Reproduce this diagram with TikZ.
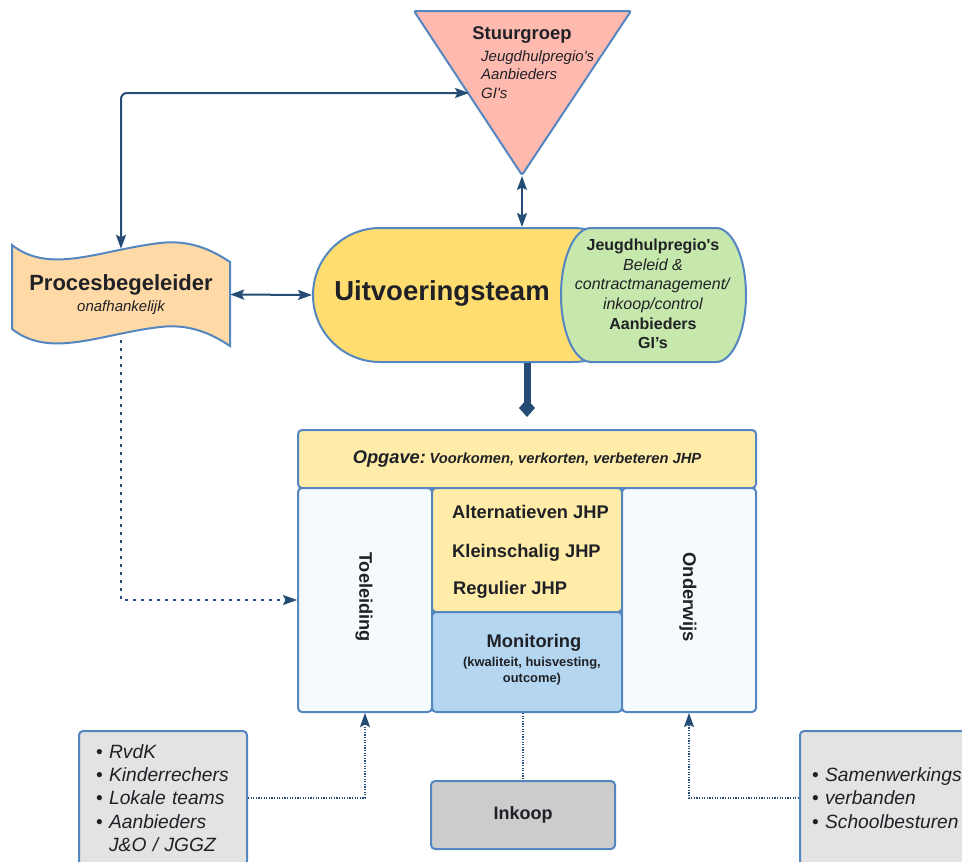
\documentclass[tikz,border=0pt]{standalone}
\usepackage{fontspec}
\setmainfont{Liberation Sans}
\usetikzlibrary{arrows.meta,positioning,shapes.misc}
\definecolor{edgeblue}{RGB}{84,134,192}
\definecolor{arrowblue}{RGB}{36,76,116}
\definecolor{txt}{RGB}{32,33,38}
\definecolor{pinkfill}{RGB}{255,186,176}
\definecolor{orangefill}{RGB}{255,218,166}
\definecolor{yellowfill}{RGB}{255,221,113}
\definecolor{greenfill}{RGB}{199,232,172}
\definecolor{paleyellow}{RGB}{255,236,168}
\definecolor{paleblue}{RGB}{245,250,255}
\definecolor{bluefill}{RGB}{180,214,240}
\definecolor{grayfill}{RGB}{204,204,204}
\definecolor{lightgray}{RGB}{227,227,227}
\begin{document}
\begin{tikzpicture}[x=1pt,y=-1pt,
    >={Stealth[length=14pt,width=10pt,inset=2.5pt]},
    panel/.style={draw=edgeblue, line width=2pt, rounded corners=4pt, text=txt, inner sep=0pt},
    duplex/.style={arrowblue, line width=2pt, <->},
    dotlink/.style={arrowblue, line width=1.3pt, dash pattern=on 1.2pt off 1.4pt, ->},
    dotline/.style={arrowblue, line width=1.3pt, dash pattern=on 1.2pt off 1.4pt}]
    \clip (0,0) rectangle (962,862);
    % stuurgroep
    \draw[draw=edgeblue, fill=pinkfill, line width=2pt, rounded corners=2pt]
        (414,11) -- (631,11) -- (522,175) -- cycle;
    \coordinate (stuurtip) at (522,176);
    \coordinate (stuurlinks) at (469,93);
    \node[text=txt, font={\fontsize{18.4}{22}\selectfont\bfseries}] (stuurtitel) at (522,35) {Stuurgroep};
    \node[anchor=north west, inner sep=0pt, align=left, text=txt,
        font={\fontsize{15}{18.5}\selectfont\itshape}] (stuurleden) at (481,50)
        {Jeugdhulpregio\textquotesingle s\\Aanbieders\\GI\textquotesingle s};
    % procesbegeleider
    \draw[draw=edgeblue, fill=orangefill, line width=2pt]
        (12,245) .. controls (50,275) and (100,250) .. (160,243)
        .. controls (190,239.5) and (212,250) .. (230,262) -- (230,346)
        .. controls (212,334) and (190,323.5) .. (160,327)
        .. controls (100,334) and (50,359) .. (12,329) -- cycle;
    \node[align=center, text=txt, minimum width=218pt, minimum height=91pt] (proces) at (121,294.5)
        {{\fontsize{22}{24}\selectfont\bfseries Procesbegeleider}\\[5pt]
         {\fontsize{15}{18}\selectfont\itshape onafhankelijk}};
    % uitvoeringsteam
    \node[rounded rectangle, draw=edgeblue, fill=yellowfill, line width=2pt, inner sep=0pt,
        minimum width=327pt, minimum height=134pt] (uitv) at (476.5,295) {};
    \node[text=txt, font={\fontsize{27.5}{32}\selectfont\bfseries}] (uitvtitel) at (442,293) {Uitvoeringsteam};
    \draw[draw=edgeblue, fill=greenfill, line width=2pt]
        (591,228) -- (716,228) arc[start angle=-90, end angle=90, x radius=30, y radius=67]
        -- (591,362) arc[start angle=90, end angle=270, x radius=30, y radius=67] -- cycle;
    \node[align=center, text=txt, font={\fontsize{16}{19.6}\selectfont}] (partnertekst) at (653,294)
        {\textbf{Jeugdhulpregio\textquotesingle s}\\\textit{Beleid \&}\\\textit{contractmanagement/}\\
         \textit{inkoop/control}\\\textbf{Aanbieders}\\\textbf{GI’s}};
    % opgave en kolommen
    \node[panel, fill=paleyellow, minimum width=458pt, minimum height=58pt] (opgave) at (527,459)
        {\bfseries\itshape{\fontsize{18.3}{22}\selectfont Opgave:}
         \fontsize{14.7}{18}\selectfont Voorkomen, verkorten, verbeteren JHP};
    \node[panel, fill=paleblue, minimum width=134pt, minimum height=224pt] (toel) at (365,600) {};
    \node[rotate=-90, text=txt, font={\fontsize{18.2}{22}\selectfont\bfseries}] (toeltekst) at (364,597) {Toeleiding};
    \node[panel, fill=paleyellow, minimum width=190pt, minimum height=124pt] (jhp) at (527,550) {};
    \node[anchor=base west, text=txt, inner sep=0pt, font={\fontsize{18.3}{22}\selectfont\bfseries}] (alt) at (452,518.5) {Alternatieven JHP};
    \node[anchor=base west, text=txt, inner sep=0pt, font={\fontsize{18.3}{22}\selectfont\bfseries}] (klein) at (452,557.5) {Kleinschalig JHP};
    \node[anchor=base west, text=txt, inner sep=0pt, font={\fontsize{18.3}{22}\selectfont\bfseries}] (regu) at (453,594.5) {Regulier JHP};
    \node[panel, fill=bluefill, minimum width=190pt, minimum height=100pt] (moni) at (527,662) {};
    \node[text=txt, font={\fontsize{18.3}{22}\selectfont\bfseries}] (monititel) at (534,643) {Monitoring};
    \node[align=center, text=txt, font={\fontsize{12.9}{16}\selectfont\bfseries}] (monisub) at (532,671)
        {(kwaliteit, huisvesting,\\outcome)};
    \node[panel, fill=paleblue, minimum width=134pt, minimum height=224pt] (onder) at (689,600) {};
    \node[rotate=-90, text=txt, font={\fontsize{18.4}{22}\selectfont\bfseries}] (ondertekst) at (688,597) {Onderwijs};
    % onderste rij
    \node[panel, fill=grayfill, minimum width=184pt, minimum height=68pt,
        font={\fontsize{18}{22}\selectfont\bfseries}] (inkoop) at (523,815) {Inkoop};
    \node[panel, fill=lightgray, text width=134pt, inner xsep=17pt, minimum height=134pt, align=left,
        font={\fontsize{19.2}{23.3}\selectfont}] (toelbron) at (163,798)
        {\textbullet\ \textit{RvdK}\\\textbullet\ \textit{Kinderrechers}\\\textbullet\ \textit{Lokale teams}\\
         \textbullet\ \textit{Aanbieders}\\\phantom{\textbullet\ }\textit{J\&O / JGGZ}};
    \node[panel, fill=lightgray, anchor=west, text width=176pt, inner xsep=12pt, minimum height=134pt,
        align=left, font={\fontsize{19.2}{23.2}\selectfont}] (schoolbron) at (799,798)
        {\textbullet\ \textit{Samenwerkings-}\\\textbullet\ \textit{verbanden}\\\textbullet\ \textit{Schoolbesturen}};
    % verbindingen
    \draw[duplex] (stuurtip) -- (stuurtip |- uitv.north);
    \draw[duplex] (proces.east) -- (uitv.west);
    \draw[duplex, rounded corners=6pt] (proces.north) |- (stuurlinks);
    \draw[arrowblue, line width=7pt, -{Diamond[length=18pt,width=16pt]}, shorten >=12pt]
        (uitv.south -| opgave.north) -- (opgave.north);
    \draw[dotlink, line width=1.5pt, dash pattern=on 3pt off 5pt] (proces.south) |- (toel.west);
    \draw[dotlink] (toelbron.east) -| (toel.south);
    \draw[dotlink] (schoolbron.west) -| (onder.south);
    \draw[dotline] (moni.south -| inkoop.north) -- (inkoop.north);
\end{tikzpicture}
\end{document}
